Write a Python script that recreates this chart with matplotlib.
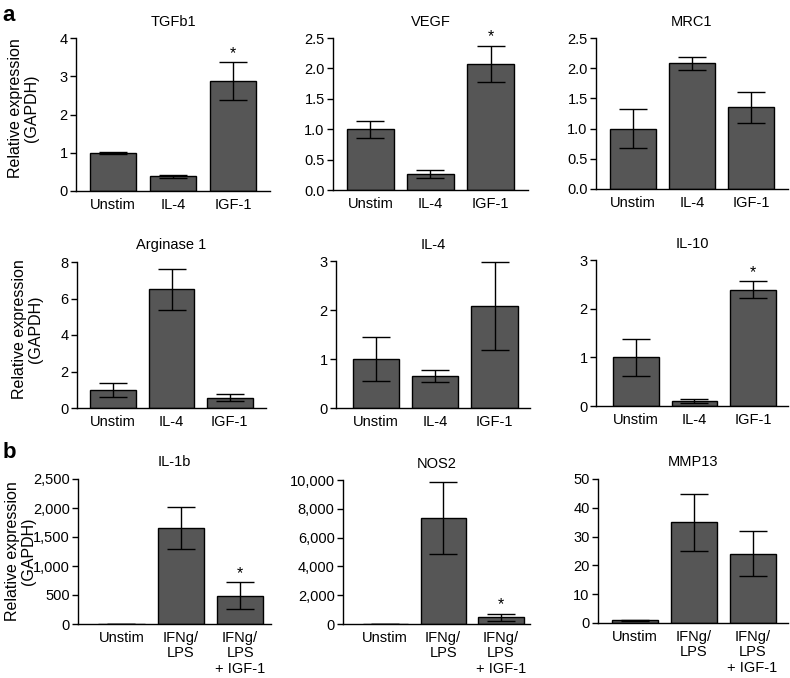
import matplotlib
matplotlib.use('Agg')
import matplotlib.pyplot as plt

plt.rcParams['font.family'] = ['Liberation Sans', 'DejaVu Sans']
plt.rcParams['font.size'] = 10.5

BAR = '#565656'

# ── Data ──────────────────────────────────────────────────────
groups_a = ['Unstim', 'IL-4', 'IGF-1']
groups_b = ['Unstim', 'IFNg/\nLPS', 'IFNg/\nLPS\n+ IGF-1']

tgfb1_mean = [1.0, 0.38, 2.87]
tgfb1_err = [0.02, 0.04, 0.50]
vegf_mean = [1.0, 0.26, 2.07]
vegf_err = [0.14, 0.07, 0.30]
mrc1_mean = [1.0, 2.08, 1.35]
mrc1_err = [0.32, 0.11, 0.26]
arg1_mean = [1.0, 6.5, 0.57]
arg1_err = [0.37, 1.12, 0.17]
il4_mean = [1.0, 0.65, 2.08]
il4_err = [0.44, 0.12, 0.90]
il10_mean = [1.0, 0.10, 2.39]
il10_err = [0.38, 0.04, 0.17]
il1b_mean = [0, 1655, 490]
il1b_err = [0, 360, 230]
nos2_mean = [0, 7380, 470]
nos2_err = [0, 2490, 230]
mmp13_mean = [1.0, 35.0, 24.1]
mmp13_err = [0.2, 9.9, 7.9]

ticks_0_4 = [0, 1, 2, 3, 4]
ticks_0_25 = [0, 0.5, 1.0, 1.5, 2.0, 2.5]
labels_0_25 = ['0.0', '0.5', '1.0', '1.5', '2.0', '2.5']
ticks_0_8 = [0, 2, 4, 6, 8]
ticks_0_3 = [0, 1, 2, 3]
ticks_il1b = [0, 500, 1000, 1500, 2000, 2500]
labels_il1b = ['0', '500', '1,000', '1,500', '2,000', '2,500']
ticks_nos2 = [0, 2000, 4000, 6000, 8000, 10000]
labels_nos2 = ['0', '2,000', '4,000', '6,000', '8,000', '10,000']
ticks_mmp13 = [0, 10, 20, 30, 40, 50]

W, H = 790, 678
fig = plt.figure(figsize=(W / 100, H / 100), dpi=100)


def panel(l, r, top, bot, title, names, mean, err, yticks, ylabels=None,
          star=None, xlim=(-0.62, 2.62), ylab_x=None, ylab_y=0.54):
    ax = fig.add_axes([l / W, 1 - bot / H, (r - l) / W, (bot - top) / H])
    x = list(range(len(names)))
    ax.bar(x, mean, width=0.78, color=BAR, edgecolor='black', linewidth=1.0, zorder=2)
    ax.errorbar(x, mean, yerr=err, fmt='none', ecolor='black', elinewidth=1.0,
                capsize=10, capthick=1.0, zorder=3)
    if star is not None:
        ax.annotate('*', xy=(star, mean[star] + err[star]), xytext=(0, 1),
                    textcoords='offset points', ha='center', va='bottom', fontsize=11.5)
    ax.set_xlim(*xlim)
    ax.set_ylim(0, yticks[-1])
    ax.set_yticks(yticks)
    ax.set_yticklabels(ylabels if ylabels else [str(t) for t in yticks])
    ax.set_xticks(x)
    ax.set_xticklabels(names, linespacing=1.12)
    ax.set_title(title, fontsize=10.5, pad=9)
    ax.spines[['top', 'right']].set_visible(False)
    ax.spines[['left', 'bottom']].set_linewidth(1.0)
    ax.tick_params(axis='x', length=0, pad=5, labelsize=10.5)
    ax.tick_params(axis='y', direction='out', length=4, width=1.0, pad=2, labelsize=10.5)
    if ylab_x is not None:
        ax.set_ylabel('Relative expression\n(GAPDH)', fontsize=11.5, linespacing=1.1)
        ax.yaxis.set_label_coords((ylab_x - l) / (r - l), ylab_y)
    return ax


# Row a1
panel(76, 270, 38, 191, 'TGFb1', groups_a, tgfb1_mean, tgfb1_err, ticks_0_4,
      star=2, ylab_x=39)
panel(333, 528, 38, 190, 'VEGF', groups_a, vegf_mean, vegf_err, ticks_0_25,
      labels_0_25, star=2)
panel(596, 788, 38, 189, 'MRC1', groups_a, mrc1_mean, mrc1_err, ticks_0_25,
      labels_0_25)

# Row a2
panel(77, 266, 262, 408, 'Arginase 1', groups_a, arg1_mean, arg1_err, ticks_0_8,
      ylab_x=43)
panel(336, 530, 261, 408, 'IL-4', groups_a, il4_mean, il4_err, ticks_0_3,
      xlim=(-0.68, 2.6))
panel(596, 788, 260, 406, 'IL-10', groups_a, il10_mean, il10_err, ticks_0_3,
      star=2, xlim=(-0.68, 2.6))

# Row b
panel(78, 271, 479, 624, 'IL-1b', groups_b, il1b_mean, il1b_err, ticks_il1b,
      labels_il1b, star=2, xlim=(-0.73, 2.52), ylab_x=36, ylab_y=0.5)
panel(343, 530, 480, 624, 'NOS2', groups_b, nos2_mean, nos2_err, ticks_nos2,
      labels_nos2, star=2, xlim=(-0.73, 2.5))
panel(598, 788, 479, 623, 'MMP13', groups_b, mmp13_mean, mmp13_err, ticks_mmp13,
      xlim=(-0.62, 2.6))

fig.text(0.003, 1 - 5 / H, 'a', fontsize=16, fontweight='bold', va='top', ha='left')
fig.text(0.003, 1 - 442 / H, 'b', fontsize=16, fontweight='bold', va='top', ha='left')

fig.savefig('out.png', dpi=100, facecolor='white')
print("Saved -> out.png")
